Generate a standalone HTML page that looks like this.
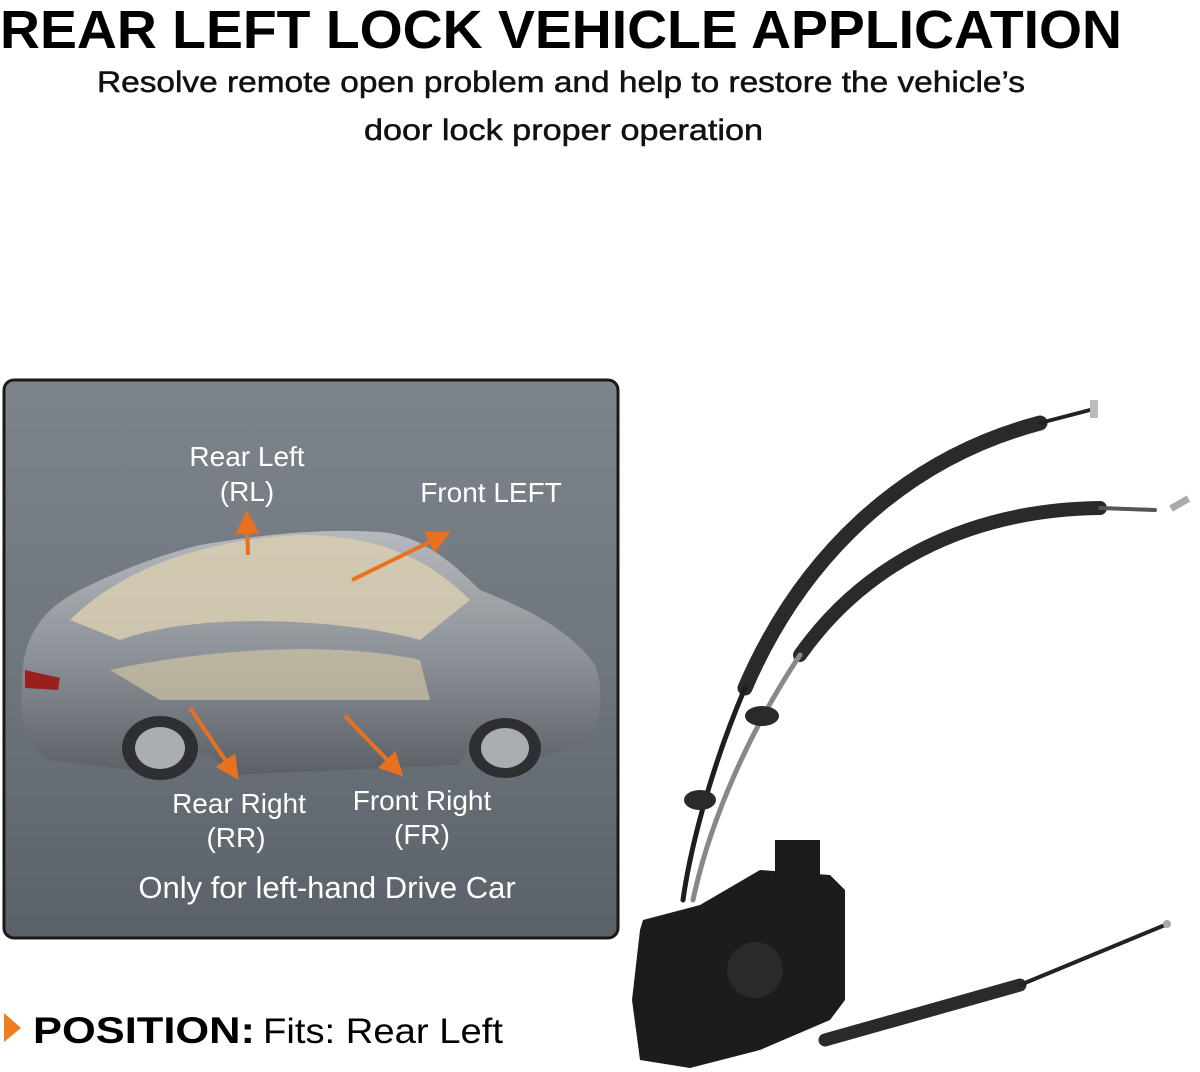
<!DOCTYPE html>
<html><head><meta charset="utf-8"><style>
html,body{margin:0;padding:0;background:#fff;}
svg{display:block;}
text{font-family:"Liberation Sans",sans-serif;}
</style></head><body>
<svg width="1200" height="1072" viewBox="0 0 1200 1072" xmlns="http://www.w3.org/2000/svg">
<defs>
<linearGradient id="pg" x1="0" y1="0" x2="0" y2="1">
<stop offset="0" stop-color="#7d848b"/><stop offset="0.5" stop-color="#6f767d"/><stop offset="1" stop-color="#5a6168"/>
</linearGradient>
<linearGradient id="cg" x1="0" y1="0" x2="0" y2="1">
<stop offset="0" stop-color="#b5b9bd"/><stop offset="0.5" stop-color="#8e9399"/><stop offset="1" stop-color="#5b6066"/>
</linearGradient>
<marker id="ah" markerWidth="6" markerHeight="6" refX="3" refY="3" orient="auto" markerUnits="strokeWidth"><path d="M0,0 L6,3 L0,6 z" fill="#e8711f"/></marker>
</defs>
<text x="0" y="48" font-size="54" font-weight="bold" textLength="1122" lengthAdjust="spacingAndGlyphs" fill="#000">REAR LEFT LOCK VEHICLE APPLICATION</text>
<text x="97" y="92" font-size="30" textLength="928" lengthAdjust="spacingAndGlyphs" fill="#111" stroke="#111" stroke-width="0.5">Resolve remote open problem and help to restore the vehicle’s</text>
<text x="364" y="140" font-size="30" textLength="399" lengthAdjust="spacingAndGlyphs" fill="#111" stroke="#111" stroke-width="0.5">door lock proper operation</text>

<rect x="4" y="380" width="614" height="558" rx="10" fill="url(#pg)" stroke="#1a1a1a" stroke-width="3"/>
<!-- car -->
<path d="M22,690 C20,640 40,610 80,590 C120,570 160,555 200,545 C260,535 320,528 380,532 C420,535 450,560 480,590 C530,610 570,630 595,665 C605,690 600,720 590,740 L520,765 C500,735 470,735 460,765 L230,775 C215,745 150,740 130,770 L50,760 C25,745 20,720 22,690 Z" fill="url(#cg)"/>
<path d="M70,620 C120,570 200,540 300,535 C380,535 430,560 470,600 L420,640 C350,620 200,610 120,640 Z" fill="#d8ccb0" opacity="0.85"/>
<path d="M110,670 C200,650 330,640 420,660 L430,700 L160,700 Z" fill="#cfc3a5" opacity="0.7"/>
<ellipse cx="160" cy="748" rx="38" ry="32" fill="#2d2f33"/><ellipse cx="160" cy="748" rx="25" ry="21" fill="#a9adb1"/>
<ellipse cx="505" cy="748" rx="36" ry="30" fill="#2d2f33"/><ellipse cx="505" cy="748" rx="24" ry="20" fill="#a9adb1"/>
<path d="M25,670 L60,678 L58,690 L25,688 Z" fill="#9a2020"/>
<g stroke="#e8711f" stroke-width="4" fill="none">
<line x1="248" y1="555" x2="247" y2="522" marker-end="url(#ah)"/>
<line x1="352" y1="580" x2="440" y2="537" marker-end="url(#ah)"/>
<line x1="190" y1="708" x2="232" y2="770" marker-end="url(#ah)"/>
<line x1="345" y1="716" x2="395" y2="768" marker-end="url(#ah)"/>
</g>
<g fill="#fff" font-size="28" text-anchor="middle">
<text x="247" y="466">Rear Left</text>
<text x="247" y="501">(RL)</text>
<text x="491" y="502">Front LEFT</text>
<text x="239" y="813">Rear Right</text>
<text x="236" y="847">(RR)</text>
<text x="422" y="810">Front Right</text>
<text x="422" y="844">(FR)</text>
<text x="327" y="898" font-size="31">Only for left-hand Drive Car</text>
</g>

<!-- cables -->
<g fill="none" stroke-linecap="round">
<path d="M745,688 C800,560 900,460 1040,423" stroke="#2a2a2a" stroke-width="15"/>
<path d="M1040,423 L1090,410" stroke="#222" stroke-width="4"/>
<path d="M800,655 C860,570 960,510 1100,508" stroke="#2a2a2a" stroke-width="14"/>
<path d="M1100,508 L1155,510" stroke="#555" stroke-width="4"/>
<path d="M745,688 C710,770 690,850 683,900" stroke="#1e1e1e" stroke-width="5"/>
<path d="M800,655 C750,730 710,820 693,900" stroke="#888" stroke-width="5"/>
<path d="M825,1040 L1020,985" stroke="#2a2a2a" stroke-width="13"/>
<path d="M1020,985 L1165,925" stroke="#222" stroke-width="4"/>
</g>
<rect x="1090" y="400" width="8" height="18" fill="#bbb"/>
<rect x="1170" y="500" width="20" height="7" fill="#aaa" transform="rotate(-30 1180 504)"/>
<circle cx="1167" cy="924" r="4" fill="#aaa"/>
<ellipse cx="700" cy="800" rx="16" ry="10" fill="#2a2a2a"/>
<ellipse cx="762" cy="716" rx="17" ry="10" fill="#2a2a2a"/>
<!-- lock body -->
<path d="M643,920 L700,905 L760,870 L830,875 L845,890 L845,1000 L830,1020 L760,1050 L690,1068 L640,1060 L632,1000 L640,930 Z" fill="#1c1c1e"/>
<rect x="775" y="840" width="45" height="40" fill="#1a1a1a"/>
<circle cx="755" cy="970" r="28" fill="#2a2a2c"/>
<!-- position -->
<path d="M4,1013 L21,1028 L4,1042 Z" fill="#f07e1e"/>
<text x="33" y="1043" font-size="37" font-weight="bold" fill="#000" textLength="222" lengthAdjust="spacingAndGlyphs">POSITION:</text>
<text x="263" y="1043" font-size="35" fill="#000" textLength="240" lengthAdjust="spacingAndGlyphs">Fits: Rear Left</text>
</svg>
</body></html>
